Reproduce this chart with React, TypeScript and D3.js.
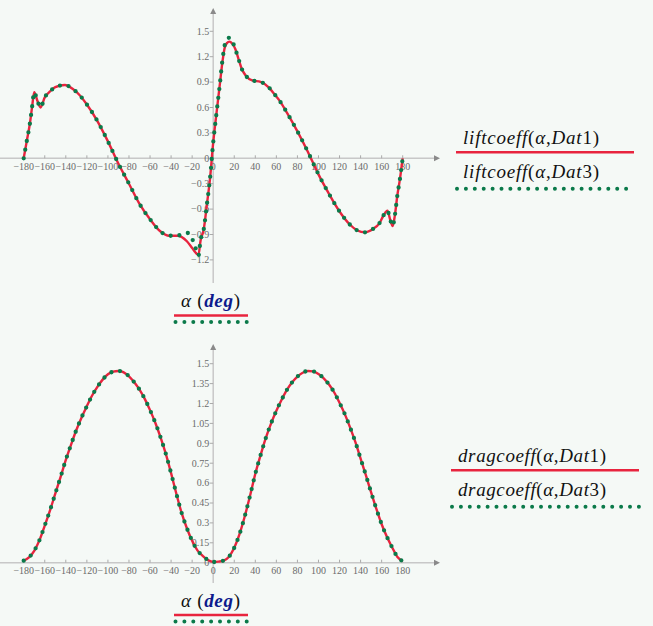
import * as d3 from "d3"

// lift coefficient, two data sets (Dat1 solid red, Dat3 dotted green)
const liftAlpha = [
  -180, -177, -174, -172, -170, -167, -164, -160, -155, -150, -141, -133, -127, -120, -110, -100, -90, -80,
  -70, -60, -50, -42, -34, -25, -20, -17, -14, -12, -9, -6, -3, 0, 3, 6, 9, 11, 13, 15.5, 18, 21, 24, 27, 31,
  37, 45, 53, 58, 63, 70, 80, 90, 100, 110, 120, 130, 137, 144, 152, 158, 162, 165.5, 168, 170.5, 172.5, 175,
  177, 180,
]
const liftDat1 = [
  0, 0.209, 0.42, 0.61, 0.78, 0.68, 0.6, 0.72, 0.79, 0.84, 0.866, 0.815, 0.748, 0.635, 0.44, 0.2, -0.065, -0.3,
  -0.539, -0.72, -0.865, -0.915, -0.915, -0.98, -1.06, -1.11, -1.14, -0.97, -0.84, -0.547, -0.236, 0.185, 0.52,
  0.84, 1.16, 1.31, 1.36, 1.378, 1.355, 1.29, 1.175, 1.06, 0.975, 0.92, 0.903, 0.835, 0.76, 0.681, 0.54, 0.318,
  0.075, -0.19, -0.42, -0.628, -0.785, -0.853, -0.874, -0.832, -0.765, -0.67, -0.618, -0.72, -0.8, -0.68, -0.43,
  -0.276, 0,
]
const liftDat3 = [
  0, 0.209, 0.42, 0.61, 0.78, 0.68, 0.6, 0.72, 0.79, 0.84, 0.866, 0.815, 0.748, 0.635, 0.44, 0.2, -0.065, -0.3,
  -0.539, -0.72, -0.865, -0.915, -0.913, -0.88, -0.95, -1.05, -1.15, -0.965, -0.84, -0.547, -0.236, 0.185, 0.52,
  0.84, 1.18, 1.34, 1.4, 1.425, 1.385, 1.29, 1.175, 1.06, 0.975, 0.92, 0.903, 0.835, 0.76, 0.681, 0.54, 0.318,
  0.075, -0.19, -0.42, -0.628, -0.785, -0.853, -0.874, -0.832, -0.765, -0.67, -0.618, -0.72, -0.8, -0.68, -0.43,
  -0.276, 0,
]

// drag coefficient
const dragAlpha = [
  -180, -175, -170, -165, -160, -155, -150, -145, -140, -135, -130, -125, -120, -115, -110, -105, -100, -95, -90,
  -85, -80, -75, -70, -65, -60, -55, -50, -45, -40, -35, -30, -25, -20, -15, -10, -5, 0, 5, 10, 15, 20, 25, 30,
  35, 40, 45, 50, 55, 60, 65, 70, 75, 80, 85, 90, 95, 100, 105, 110, 115, 120, 125, 130, 135, 140, 145, 150, 155,
  160, 165, 170, 175, 180,
]
const dragDat1 = [
  0.015, 0.04, 0.09, 0.17, 0.28, 0.395, 0.52, 0.645, 0.775, 0.89, 1.0, 1.095, 1.18, 1.26, 1.325, 1.38, 1.42, 1.44,
  1.445, 1.435, 1.405, 1.36, 1.305, 1.235, 1.15, 1.055, 0.945, 0.82, 0.675, 0.52, 0.375, 0.26, 0.165, 0.093, 0.052,
  0.02, 0.005, 0.008, 0.016, 0.045, 0.112, 0.215, 0.35, 0.505, 0.67, 0.81, 0.94, 1.05, 1.145, 1.228, 1.302, 1.36,
  1.403, 1.432, 1.445, 1.442, 1.422, 1.39, 1.343, 1.283, 1.205, 1.12, 1.02, 0.91, 0.785, 0.66, 0.53, 0.405, 0.29,
  0.195, 0.115, 0.043, 0.012,
]
const dragDat3 = [
  0.015, 0.04, 0.09, 0.17, 0.28, 0.395, 0.52, 0.645, 0.775, 0.89, 1.0, 1.095, 1.18, 1.26, 1.325, 1.38, 1.42, 1.44,
  1.445, 1.435, 1.405, 1.36, 1.305, 1.235, 1.15, 1.055, 0.945, 0.82, 0.675, 0.52, 0.375, 0.26, 0.165, 0.093, 0.052,
  0.02, 0.005, 0.008, 0.016, 0.045, 0.112, 0.215, 0.35, 0.505, 0.67, 0.81, 0.94, 1.05, 1.145, 1.228, 1.302, 1.36,
  1.403, 1.432, 1.445, 1.442, 1.422, 1.39, 1.343, 1.283, 1.205, 1.12, 1.02, 0.91, 0.785, 0.66, 0.53, 0.405, 0.29,
  0.195, 0.115, 0.043, 0.012,
]

const alphaTicks = [-180, -160, -140, -120, -100, -80, -60, -40, -20, 0, 20, 40, 60, 80, 100, 120, 140, 160, 180]
const liftTicks = [-1.2, -0.9, -0.6, -0.3, 0, 0.3, 0.6, 0.9, 1.2, 1.5]
const dragTicks = [0, 0.15, 0.3, 0.45, 0.6, 0.75, 0.9, 1.05, 1.2, 1.35, 1.5]

const RED = "#e8243e"
const GREEN = "#0b7a4a"
const BG = "#f5f9f6"
const MATH = "'Liberation Serif', 'DejaVu Serif', serif"

const fmt = (v: number) => String(v).replace("-", "\u2212")

const x = d3.scaleLinear().domain([-180, 180]).range([23.7, 402.7])
const ORIGIN_X = x(0)

function Plot({
  alpha,
  dat1,
  dat3,
  y,
  ticks,
  axisBottom,
  axisTop,
}: {
  alpha: number[]
  dat1: number[]
  dat3: number[]
  y: d3.ScaleLinear<number, number>
  ticks: number[]
  axisBottom: number
  axisTop: number
}) {
  const y0 = y(0)
  const line = d3
    .line<number>()
    .x((_, i) => x(alpha[i]))
    .y((d) => y(d))
    .curve(d3.curveMonotoneX)

  return (
    <g>
      {/* axes */}
      <line x1={0} x2={435} y1={y0} y2={y0} stroke="#c8c8c8" strokeWidth={1.5} />
      <polygon points={`440,${y0} 434,${y0 - 3} 434,${y0 + 3}`} fill="#8a8a8a" />
      <line x1={ORIGIN_X} x2={ORIGIN_X} y1={axisBottom} y2={axisTop + 5} stroke="#c8c8c8" strokeWidth={1.5} />
      <polygon
        points={`${ORIGIN_X},${axisTop} ${ORIGIN_X - 3},${axisTop + 6} ${ORIGIN_X + 3},${axisTop + 6}`}
        fill="#8a8a8a"
      />

      {alphaTicks.map((t) => (
        <g key={`x${t}`}>
          <line x1={x(t)} x2={x(t)} y1={y0 - 3} y2={y0} stroke="#aaa" strokeWidth={1} />
          <text
            x={x(t)}
            y={y0 + 11.5}
            textAnchor="middle"
            fontFamily={MATH}
            fontSize={10}
            fill="#6b6b6b"
          >
            {fmt(t)}
          </text>
        </g>
      ))}
      {ticks.map((t) => (
        <g key={`y${t}`}>
          <line x1={ORIGIN_X - 3.5} x2={ORIGIN_X} y1={y(t)} y2={y(t)} stroke="#aaa" strokeWidth={1} />
          <text
            x={ORIGIN_X - 4}
            y={y(t)}
            dy="0.33em"
            textAnchor="end"
            fontFamily={MATH}
            fontSize={10}
            fill="#6b6b6b"
          >
            {fmt(t)}
          </text>
        </g>
      ))}

      {/* traces */}
      <path d={line(dat1) ?? ""} fill="none" stroke={RED} strokeWidth={2.4} />
      <path
        d={line(dat3) ?? ""}
        fill="none"
        stroke={GREEN}
        strokeWidth={4.3}
        strokeLinecap="round"
        strokeDasharray="0 8.8"
      />
    </g>
  )
}

function Legend({ fn, x0, x1, xt, base1, base2, width }: any) {
  const row = (name: string, baseline: number) => (
    <text
      x={xt}
      y={baseline}
      fontFamily={MATH}
      fontSize={19}
      fill="#111"
      textLength={width}
      lengthAdjust="spacing"
      style={{ fontVariantLigatures: "none" }}
    >
      <tspan fontStyle="italic">{fn}</tspan>
      <tspan>(</tspan>
      <tspan fontStyle="italic">α</tspan>
      <tspan>,</tspan>
      <tspan fontStyle="italic">Dat</tspan>
      <tspan>{name}</tspan>
      <tspan>)</tspan>
    </text>
  )
  return (
    <g>
      {row("1", base1)}
      <line x1={x0} x2={x1} y1={base1 + 8.3} y2={base1 + 8.3} stroke={RED} strokeWidth={2.6} />
      {row("3", base2)}
      <line
        x1={x0 + 1}
        x2={x1}
        y1={base2 + 10.8}
        y2={base2 + 10.8}
        stroke={GREEN}
        strokeWidth={4}
        strokeLinecap="round"
        strokeDasharray="0 8.9"
      />
    </g>
  )
}

function AxisLabel({ baseline }: { baseline: number }) {
  return (
    <g>
      <text x={181} y={baseline} fontFamily={MATH} fontSize={19} fill="#111" textLength={59} lengthAdjust="spacing">
        <tspan fontStyle="italic">α</tspan>
        <tspan>  (</tspan>
        <tspan fontStyle="italic" fontWeight="bold" fill="#0d1a8c">
          deg
        </tspan>
        <tspan>)</tspan>
      </text>
      <line x1={174} x2={248} y1={baseline + 8.5} y2={baseline + 8.5} stroke={RED} strokeWidth={2.6} />
      <line
        x1={175.5}
        x2={248}
        y1={baseline + 15}
        y2={baseline + 15}
        stroke={GREEN}
        strokeWidth={4}
        strokeLinecap="round"
        strokeDasharray="0 8.9"
      />
    </g>
  )
}

export default function App() {
  const yLift = d3.scaleLinear().domain([0, 1.5]).range([158.3, 31.3])
  const yDrag = d3.scaleLinear().domain([0, 1.5]).range([562.7, 363.7])

  return (
    <svg
      width={653}
      height={626}
      style={{ position: "absolute", left: 0, top: 0, display: "block" }}
    >
      <rect width={653} height={626} fill={BG} />
      <Plot
        alpha={liftAlpha}
        dat1={liftDat1}
        dat3={liftDat3}
        y={yLift}
        ticks={liftTicks}
        axisBottom={283}
        axisTop={8}
      />
      <AxisLabel baseline={307} />
      <Legend fn="liftcoeff" x0={456} x1={634} xt={463} base1={144} base2={178} width={136} />

      <Plot
        alpha={dragAlpha}
        dat1={dragDat1}
        dat3={dragDat3}
        y={yDrag}
        ticks={dragTicks}
        axisBottom={583}
        axisTop={344}
      />
      <AxisLabel baseline={606.5} />
      <Legend fn="dragcoeff" x0={451} x1={639} xt={458} base1={462} base2={496} width={148} />
    </svg>
  )
}
